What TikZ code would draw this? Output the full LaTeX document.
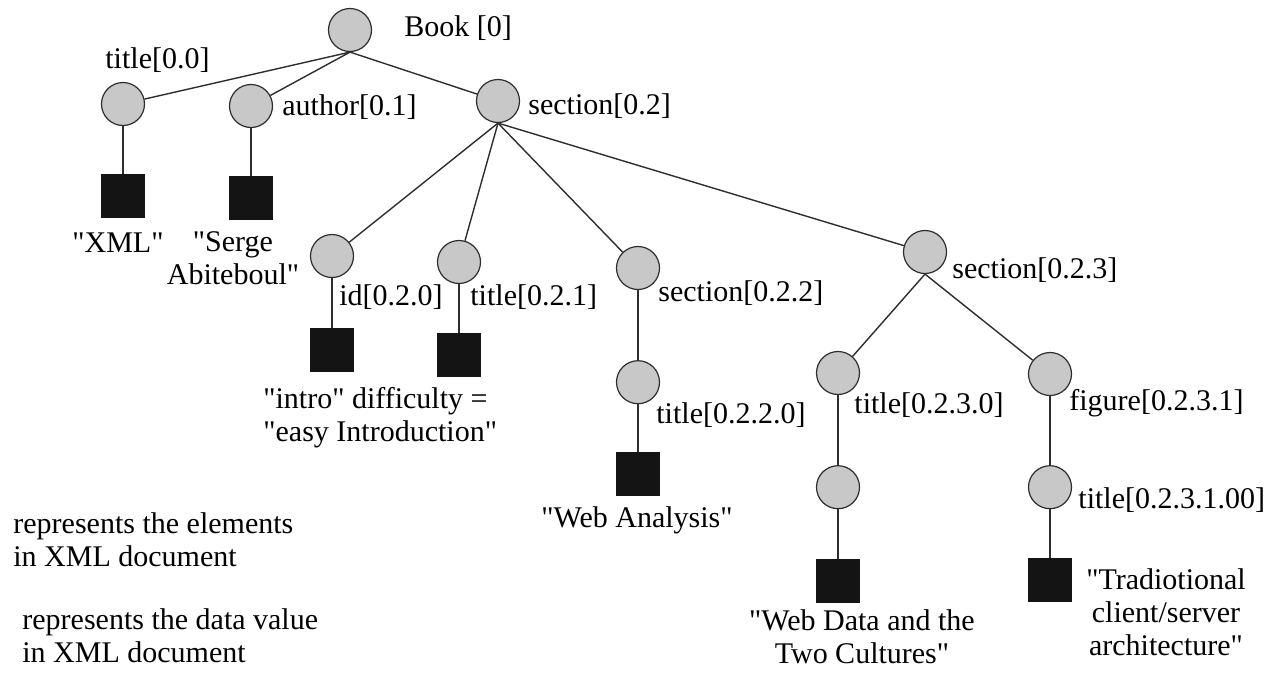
\documentclass[tikz,border=0pt]{standalone}
\usepackage{fontspec}
\setmainfont{Liberation Serif}
\usepackage{tikz}
\usetikzlibrary{positioning}

\definecolor{elemgray}{RGB}{200,200,200}
\definecolor{edgegray}{RGB}{45,45,45}

\newcommand{\dq}{\textquotedbl}

\tikzset{
  elem/.style={circle, draw=edgegray, fill=elemgray, line width=0.6pt, minimum size=21.5pt, inner sep=0pt},
  val/.style={rectangle, draw=black!92, fill=black!92, minimum size=21.5pt, inner sep=0pt},
  lbl/.style={anchor=west, inner sep=0pt},
  txt/.style={align=center, inner sep=0pt},
  edge/.style={draw=edgegray, line width=0.7pt},
}

\begin{document}
\begin{tikzpicture}[x=0.5pt, y=-0.5pt, font=\fontsize{15}{16.5}\selectfont]
\useasboundingbox (0,0) rectangle (1274,681);

% book
\node (book) [elem] at (350,30) {};
\node (book_lbl) [lbl] at (404,28) {Book [0]};

% title, author
\node (t00) [elem] at (123,104) {};
\node (t00_lbl) [lbl] at (105,60) {title[0.0]};
\node (t00_val) [val, below=24pt of t00] {};
\node (t00_txt) [txt] at (118,243) {\dq XML\dq};

\node (au01) [elem] at (251,106) {};
\node (au01_lbl) [lbl] at (282,107) {author[0.1]};
\node (au01_val) [val, below=24pt of au01] {};
\node (au01_txt) [txt] at (233,258) {\dq Serge\\Abiteboul\dq};

\draw [edge] (book.south) -- (t00);
\draw [edge] (book.south) -- (au01);
\draw [edge] (t00) -- (t00_val);
\draw [edge] (au01) -- (au01_val);

% section
\node (sec02) [elem] at (498,101) {};
\node (sec02_lbl) [lbl] at (528,106) {section[0.2]};
\draw [edge] (book.south) -- (sec02);

\node (id020) [elem] at (332,256) {};
\node (id020_lbl) [lbl] at (339,297) {id[0.2.0]};
\node (id020_val) [val, below=25pt of id020] {};

\node (t021) [elem] at (459,262) {};
\node (t021_lbl) [lbl] at (470,297) {title[0.2.1]};
\node (t021_val) [val, below=24.5pt of t021] {};

\node (intro_txt) [txt, anchor=west, align=left] at (263,418) {\dq intro\dq{} difficulty =\\\dq easy Introduction\dq};

\draw [edge] (sec02.south) -- (id020);
\draw [edge] (sec02.south) -- (t021);
\draw [edge] (id020) -- (id020_val);
\draw [edge] (t021) -- (t021_val);

% section 0.2.2
\node (sec022) [elem] at (638,268) {};
\node (sec022_lbl) [lbl] at (658,293) {section[0.2.2]};
\node (t0220) [elem, below=35pt of sec022] {};
\node (t0220_lbl) [lbl] at (656,415) {title[0.2.2.0]};
\node (t0220_val) [val, below=24pt of t0220] {};
\node (t0220_txt) [txt] at (637,520) {\dq Web Analysis\dq};

\draw [edge] (sec02.south) -- (sec022);
\draw [edge] (sec022) -- (t0220);
\draw [edge] (t0220) -- (t0220_val);

% section 0.2.3
\node (sec023) [elem] at (925,252) {};
\node (sec023_lbl) [lbl] at (952,270) {section[0.2.3]};
\draw [edge] (sec02.south) -- (sec023);

\node (t0230) [elem] at (838,373) {};
\node (t0230_lbl) [lbl] at (854,405) {title[0.2.3.0]};
\node (t0230_sub) [elem, below=35pt of t0230] {};
\node (t0230_val) [val, below=25pt of t0230_sub] {};
\node (t0230_txt) [txt] at (862,637) {\dq Web Data and the\\Two Cultures\dq};

\node (fig0231) [elem] at (1050,374) {};
\node (fig0231_lbl) [lbl] at (1069,403) {figure[0.2.3.1]};
\node (t02310) [elem, below=34.5pt of fig0231] {};
\node (t02310_lbl) [lbl] at (1078,500) {title[0.2.3.1.00]};
\node (t02310_val) [val, below=24.5pt of t02310] {};
\node (t02310_txt) [txt] at (1166,612) {\dq Tradiotional\\client/server\\architecture\dq};

\draw [edge] (sec023.south) -- (t0230);
\draw [edge] (sec023.south) -- (fig0231);
\draw [edge] (t0230) -- (t0230_sub);
\draw [edge] (t0230_sub) -- (t0230_val);
\draw [edge] (fig0231) -- (t02310);
\draw [edge] (t02310) -- (t02310_val);

% legend
\node (leg_elem) [txt, anchor=west, align=left] at (13,540) {represents the elements\\in XML document};
\node (leg_val) [txt, anchor=west, align=left] at (22,636) {represents the data value\\in XML document};
\end{tikzpicture}
\end{document}
